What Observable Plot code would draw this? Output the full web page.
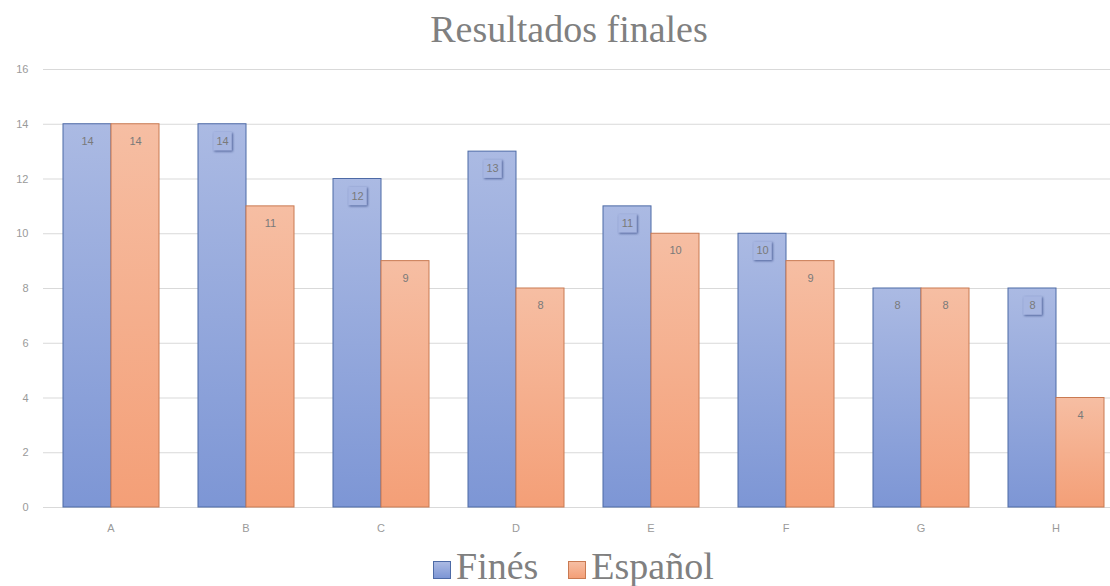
<!DOCTYPE html>
<html>
<head>
<meta charset="utf-8">
<script src="https://cdn.jsdelivr.net/npm/d3@7"></script>
<script src="https://cdn.jsdelivr.net/npm/@observablehq/plot@0.6"></script>
<style>
  html, body { margin: 0; padding: 0; background: #fff; }
  #page { position: relative; width: 1110px; height: 586px; overflow: hidden; background: #fff; }
  #title {
    position: absolute; left: 0; top: 8px; width: 1138px; text-align: center;
    font-family: "Liberation Serif", "DejaVu Serif", serif; font-size: 38px; color: #808080;
    line-height: 42px;
  }
  #chart { position: absolute; left: 0; top: 56px; }
  #legend {
    position: absolute; left: 433px; top: 545px; display: flex; align-items: center; gap: 0;
    font-family: "Liberation Serif", "DejaVu Serif", serif; font-size: 38px; color: #808080;
    line-height: 42px;
  }
  #legend .sw { display: inline-block; width: 18px; height: 18px; box-sizing: border-box; margin-right: 5px; position: relative; top: 4px; }
  #legend .item { display: flex; align-items: center; margin-right: 30px; }
  .lblbox { filter: drop-shadow(1.5px 1.5px 0.8px rgba(50, 70, 130, 0.75)); }
</style>
</head>
<body>
<div id="page">
  <div id="title">Resultados finales</div>
  <div id="chart"></div>
  <div id="legend"></div>
</div>
<script>
// Categories and scores per language
const categorias = ["A", "B", "C", "D", "E", "F", "G", "H"];
const series = ["Finés", "Español"];
const fines = [14, 14, 12, 13, 11, 10, 8, 8];
const espanol = [14, 11, 9, 8, 10, 9, 8, 4];
const yTicks = [0, 2, 4, 6, 8, 10, 12, 14, 16];
// Finnish labels drawn with a small shadowed callout box
const conCaja = ["B", "C", "D", "E", "F", "H"];

const colores = {
  "Finés": {top: "#abbae3", bottom: "#7d96d5", stroke: "#4d6aa6", id: "gradFines"},
  "Español": {top: "#f6bea3", bottom: "#f49f77", stroke: "#c97a52", id: "gradEspanol"}
};

const datos = categorias.flatMap((c, i) => [
  {cat: c, serie: "Finés", valor: fines[i]},
  {cat: c, serie: "Español", valor: espanol[i]}
]);

const sans = "'Liberation Sans', 'DejaVu Sans', sans-serif";

const marks = [
  Plot.gridY(yTicks, {stroke: "#d9d9d9", strokeOpacity: 1}),
  Plot.axisY(yTicks, {tickSize: 0, tickPadding: 15, fill: "#9a9a9a", fontSize: 11, fontFamily: sans, label: null}),
  Plot.axisFx({anchor: "bottom", tickSize: 0, tickPadding: 17, fill: "#9a9a9a", fontSize: 11, fontFamily: sans, label: null})
];

for (const s of series) {
  const sub = datos.filter(d => d.serie === s);
  marks.push(Plot.barY(sub, {
    fx: "cat", x: "serie", y: "valor",
    fill: `url(#${colores[s].id})`, stroke: colores[s].stroke, strokeWidth: 1
  }));
}

marks.push(Plot.dot(datos.filter(d => d.serie === "Finés" && conCaja.includes(d.cat)), {
  fx: "cat", x: "serie", y: "valor", dy: 17,
  symbol: "square", r: 10.5, fill: "#a7b6e1", className: "lblbox"
}));

marks.push(Plot.text(datos, {
  fx: "cat", x: "serie", y: "valor", text: d => String(d.valor), dy: 17,
  fill: "#7a7a7a", fontSize: 11, fontFamily: sans
}));

const svg = Plot.plot({
  width: 1125,
  height: 486,
  marginLeft: 42,
  marginRight: 1,
  marginTop: 13,
  marginBottom: 35,
  style: {background: "#fff", overflow: "visible", maxWidth: "none"},
  fx: {domain: categorias, padding: 0, label: null},
  x: {domain: series, paddingInner: 0, paddingOuter: 0.39, axis: null},
  y: {domain: [0, 16], axis: null},
  marks
});

// Vertical gradient per bar (top lighter, bottom deeper)
const defs = d3.select(svg).insert("defs", ":first-child");
for (const s of series) {
  const g = defs.append("linearGradient").attr("id", colores[s].id)
    .attr("x1", 0).attr("y1", 0).attr("x2", 0).attr("y2", 1);
  g.append("stop").attr("offset", "0%").attr("stop-color", colores[s].top);
  g.append("stop").attr("offset", "100%").attr("stop-color", colores[s].bottom);
}

document.getElementById("chart").appendChild(svg);

// Legend
const leg = document.getElementById("legend");
for (const s of series) {
  const item = document.createElement("div");
  item.className = "item";
  const sw = document.createElement("span");
  sw.className = "sw";
  sw.style.background = `linear-gradient(${colores[s].top}, ${colores[s].bottom})`;
  sw.style.border = `1px solid ${colores[s].stroke}`;
  const t = document.createElement("span");
  t.textContent = s;
  item.appendChild(sw);
  item.appendChild(t);
  leg.appendChild(item);
}
</script>
</body>
</html>
